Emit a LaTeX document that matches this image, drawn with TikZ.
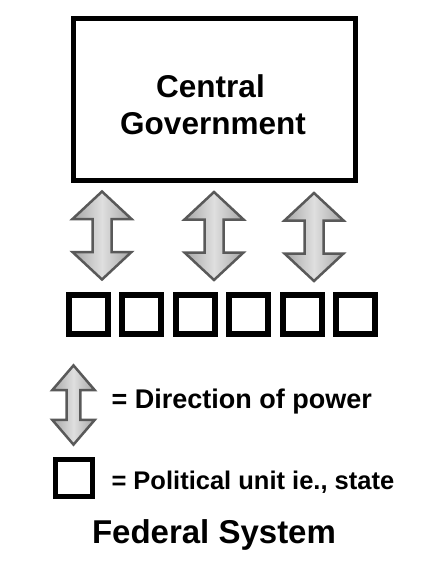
\documentclass[tikz,border=0pt]{standalone}
\usepackage{fontspec}
\setmainfont{Liberation Sans}
\usepackage{tikz}
\usetikzlibrary{positioning}

\tikzset{
	unitbox/.style={draw=black, line width=6pt, minimum size=39pt, inner sep=0pt},
	keytext/.style={anchor=base west, font=\bfseries\fontsize{26}{30}\selectfont},
	power/.pic={
		\draw[line width=2.5pt, draw=black!65, line join=miter,
			left color=gray!70, right color=gray!70, middle color=gray!25]
			(0,-44) -- (29.5,-16.5) -- (9.5,-16.5) -- (9.5,16.5) -- (29.5,16.5) -- (0,44)
			-- (-29.5,16.5) -- (-9.5,16.5) -- (-9.5,-16.5) -- (-29.5,-16.5) -- cycle;
	}
}

\begin{document}
\begin{tikzpicture}[x=1pt, y=-1pt]
	\useasboundingbox (0,0) rectangle (433,569);

	\node[draw=black, line width=5pt, minimum width=282pt, minimum height=162pt] (gov) at (214.5,99.5) {};
	\node[anchor=base, font=\bfseries\fontsize{31.5}{37}\selectfont] (central) at (210.5,98) {Central};
	\node[anchor=base, font=\bfseries\fontsize{31.5}{37}\selectfont] (government) at (213,135) {Government};

	\foreach \x/\y [count=\i] in {102/235.5, 214/236, 314/237}{
		\pic (arrow\i) at (\x,\y) {power};
	};

	\foreach \i in {1,...,6}{
		\node[unitbox] (unit\i) at ({88.5+53.4*(\i-1)},314.5) {};
	};

	% legend
	\pic[xscale=0.72, yscale=0.9] (keyarrow) at (73.5,405) {power};
	\node[keytext, font=\bfseries\fontsize{27}{30}\selectfont] (keypower) at (108,408) {= Direction of power};
	\node[unitbox, line width=5pt, minimum size=37pt] (keyunit) at (74,477.5) {};
	\node[keytext, font=\bfseries\fontsize{25.5}{30}\selectfont] (keystate) at (108,489) {= Political unit ie., state};

	\node[anchor=base, font=\bfseries\fontsize{33}{40}\selectfont] (title) at (214,543) {Federal System};

\end{tikzpicture}
\end{document}
